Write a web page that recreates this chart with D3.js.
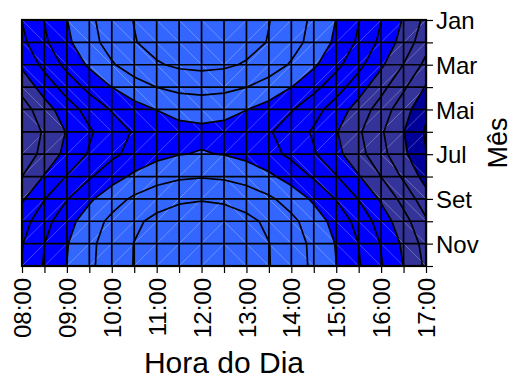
<!DOCTYPE html>
<html>
<head>
<meta charset="utf-8">
<script src="https://cdn.jsdelivr.net/npm/d3@7"></script>
<style>
  html, body { margin: 0; padding: 0; background: #ffffff; }
  svg { display: block; }
  text { font-family: "Liberation Sans", Arial, Helvetica, sans-serif; fill: #000; }
</style>
</head>
<body>
<svg id="chart" width="514" height="378"></svg>
<script>
// Hours of the day (half-hour steps) and months of the year
const halfHours = [8, 8.5, 9, 9.5, 10, 10.5, 11, 11.5, 12, 12.5, 13, 13.5, 14, 14.5, 15, 15.5, 16, 16.5, 17];
const hourLabels = ["08:00", "09:00", "10:00", "11:00", "12:00", "13:00", "14:00", "15:00", "16:00", "17:00"];
const months = ["Jan", "Fev", "Mar", "Abr", "Mai", "Jun", "Jul", "Ago", "Set", "Out", "Nov", "Dez"];
const monthLabels = ["Jan", "Mar", "Mai", "Jul", "Set", "Nov"];

// Relative solar intensity (x1000) per month, one value per half hour 08:00..17:00
const jan = [562, 657, 743, 819, 882, 933, 970, 992, 1000, 992, 970, 933, 882, 819, 743, 657, 562, 460, 351];
const fev = [538, 637, 727, 806, 872, 925, 963, 986, 994, 986, 963, 925, 872, 806, 727, 637, 538, 431, 318];
const mar = [484, 586, 678, 759, 828, 882, 921, 945, 953, 945, 921, 882, 828, 759, 678, 586, 484, 374, 258];
const abr = [407, 508, 599, 679, 746, 800, 838, 862, 870, 862, 838, 800, 746, 679, 599, 508, 407, 298, 183];
const mai = [333, 430, 517, 594, 659, 710, 747, 770, 778, 770, 747, 710, 659, 594, 517, 430, 333, 229, 119];
const jun = [295, 389, 474, 548, 611, 661, 697, 719, 726, 719, 697, 661, 611, 548, 474, 389, 295, 194, 87];
const jul = [313, 408, 494, 569, 633, 683, 720, 742, 750, 742, 720, 683, 633, 569, 494, 408, 313, 210, 102];
const ago = [375, 474, 564, 643, 709, 762, 800, 823, 831, 823, 800, 762, 709, 643, 564, 474, 375, 268, 155];
const set = [455, 557, 649, 730, 798, 853, 892, 916, 924, 916, 892, 853, 798, 730, 649, 557, 455, 345, 228];
const out = [520, 621, 712, 792, 859, 913, 952, 975, 983, 975, 952, 913, 859, 792, 712, 621, 520, 411, 296];
const nov = [555, 652, 740, 816, 881, 932, 970, 992, 1000, 992, 970, 932, 881, 816, 740, 652, 555, 451, 341];
const dez = [567, 661, 746, 820, 883, 933, 969, 991, 998, 991, 969, 933, 883, 820, 746, 661, 567, 466, 359];

// Contour line levels and the coarser colour bands
const lineLevels = [99, 191, 283, 376, 468, 560, 653, 745, 837, 930];
const bandBreaks = [191, 468, 745];
const bandColors = ["#000099", "#333399", "#0000ff", "#3366ff"];

const rows = [jan, fev, mar, abr, mai, jun, jul, ago, set, out, nov, dez];
const nx = halfHours.length, ny = months.length;
const values = rows.flat();

const svg = d3.select("#chart");
const x = d3.scaleLinear().domain([halfHours[0], halfHours[nx - 1]]).range([22, 426]);
const y = d3.scaleLinear().domain([1, 12]).range([20, 266]);
const colToHour = d3.scaleLinear().domain([0, nx - 1]).range([halfHours[0], halfHours[nx - 1]]);
const rowToMonth = d3.scaleLinear().domain([0, ny - 1]).range([1, 12]);

// contour grid coordinates: value index i sits at i + 0.5
const toScreen = d3.geoTransform({
  point(px, py) { this.stream.point(x(colToHour(px - 0.5)), y(rowToMonth(py - 0.5))); }
});
const path = d3.geoPath(toScreen);
const contourGen = d3.contours().size([nx, ny]);

const [x0, x1] = x.range(), [y0, y1] = y.range();

svg.append("clipPath").attr("id", "plotClip")
  .append("rect").attr("x", x0).attr("y", y0).attr("width", x1 - x0).attr("height", y1 - y0);

const plot = svg.append("g").attr("clip-path", "url(#plotClip)");

// filled bands
plot.append("rect").attr("x", x0).attr("y", y0).attr("width", x1 - x0).attr("height", y1 - y0)
  .attr("fill", bandColors[0]);
bandBreaks.forEach((t, i) => {
  plot.append("path").attr("d", path(contourGen.contour(values, t)))
    .attr("fill", bandColors[i + 1]).attr("stroke", "none");
});

// faint triangle edges of the interpolation mesh
const cells = [];
for (let j = 0; j < ny - 1; j++) for (let i = 0; i < nx - 1; i++) cells.push([i, j]);
const ci = (nx - 1) / 2, cj = (ny - 1) / 2;
plot.append("g").selectAll("line").data(cells).join("line")
  .attr("x1", d => x(colToHour(d[0])))
  .attr("x2", d => x(colToHour(d[0] + 1)))
  .attr("y1", d => ((d[0] + 0.5 - ci) * (d[1] + 0.5 - cj) > 0) ? y(rowToMonth(d[1])) : y(rowToMonth(d[1] + 1)))
  .attr("y2", d => ((d[0] + 0.5 - ci) * (d[1] + 0.5 - cj) > 0) ? y(rowToMonth(d[1] + 1)) : y(rowToMonth(d[1])))
  .attr("stroke", "#ffffff").attr("stroke-opacity", 0.35).attr("stroke-width", 0.8);

// contour lines
lineLevels.forEach(t => {
  plot.append("path").attr("d", path(contourGen.contour(values, t)))
    .attr("fill", "none").attr("stroke", "#000").attr("stroke-width", 1.7).attr("stroke-linejoin", "round");
});

// grid
const grid = svg.append("g").attr("stroke", "#000").attr("stroke-width", 1.7);
grid.selectAll("line.v").data(halfHours).join("line").attr("class", "v")
  .attr("x1", d => x(d)).attr("x2", d => x(d)).attr("y1", y0).attr("y2", y1);
grid.selectAll("line.h").data(d3.range(1, 13)).join("line").attr("class", "h")
  .attr("y1", d => y(d)).attr("y2", d => y(d)).attr("x1", x0).attr("x2", x1);

svg.append("rect").attr("x", x0).attr("y", y0).attr("width", x1 - x0).attr("height", y1 - y0)
  .attr("fill", "none").attr("stroke", "#000").attr("stroke-width", 2.2);

// bottom axis: ticks every half hour, labels on the hour
const fmtHour = h => String(Math.floor(h)).padStart(2, "0") + ":00";
const xAxis = d3.axisBottom(x).tickValues(halfHours).tickSize(7).tickSizeOuter(0)
  .tickFormat(h => Number.isInteger(h) && hourLabels.includes(fmtHour(h)) ? fmtHour(h) : "");
const gx = svg.append("g").attr("transform", `translate(0,${y1})`).call(xAxis);
gx.select(".domain").attr("stroke", "#000").attr("stroke-width", 1.2);
gx.selectAll(".tick line").attr("stroke", "#000").attr("stroke-width", 1.2);
gx.selectAll(".tick text")
  .attr("font-size", 24).attr("font-family", null)
  .attr("text-anchor", "end")
  .attr("transform", "translate(0,12) rotate(-90)")
  .attr("x", 0).attr("y", 0).attr("dy", "0.36em");

// right axis: ticks every month, labels on alternating months
const yAxis = d3.axisRight(y).tickValues(d3.range(1, 13)).tickSize(7).tickSizeOuter(0)
  .tickFormat(m => monthLabels.includes(months[m - 1]) ? months[m - 1] : "");
const gy = svg.append("g").attr("transform", `translate(${x1},0)`).call(yAxis);
gy.select(".domain").attr("stroke", "#000").attr("stroke-width", 1.2);
gy.selectAll(".tick line").attr("stroke", "#000").attr("stroke-width", 1.2);
gy.selectAll(".tick text").attr("font-size", 24).attr("font-family", null)
  .attr("x", 10).attr("dy", "0.36em");

// axis titles
svg.append("text").attr("x", (x0 + x1) / 2).attr("y", 373).attr("text-anchor", "middle")
  .attr("font-size", 30).text("Hora do Dia");
svg.append("text").attr("transform", `translate(507,${(y0 + y1) / 2}) rotate(-90)`)
  .attr("text-anchor", "middle").attr("font-size", 27).text("Mês");
</script>
</body>
</html>
